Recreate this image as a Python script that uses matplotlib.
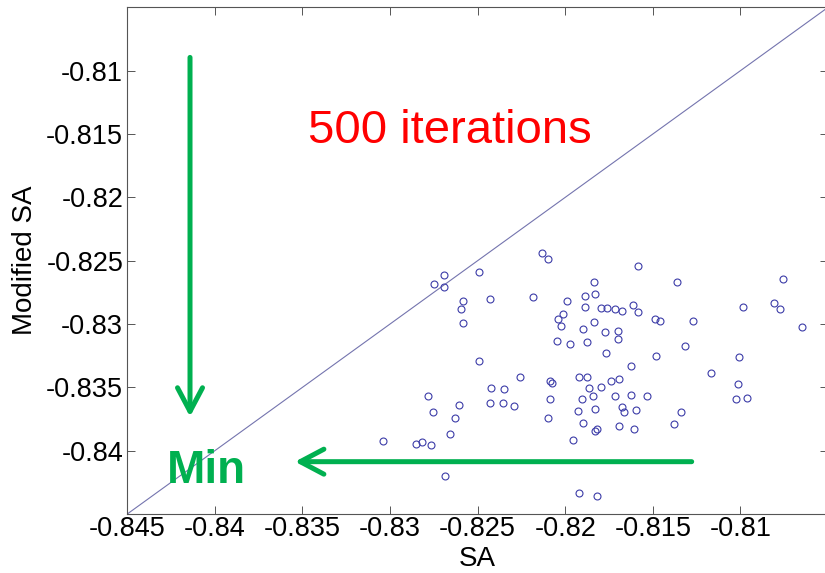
import matplotlib.pyplot as plt
import numpy as np

plt.rcParams['font.family'] = ['Liberation Sans', 'DejaVu Sans']

# SA result vs Modified SA result for each run
sa = np.array([
    -0.82692, -0.82749, -0.82692, -0.82491, -0.82586, -0.82594, -0.82586, -0.82430,
    -0.82491, -0.82258, -0.82784, -0.82753, -0.82608, -0.82629, -0.82658, -0.83042,
    -0.82852, -0.82820, -0.82768, -0.82426, -0.82350, -0.82430, -0.82355, -0.82293,
    -0.82688, -0.82130, -0.82096, -0.81587, -0.81836, -0.82186, -0.81992, -0.81886,
    -0.81829, -0.81886, -0.81794, -0.81764, -0.81715, -0.81678, -0.81615, -0.81587,
    -0.82015, -0.82043, -0.82024, -0.81835, -0.81901, -0.81773, -0.81696, -0.81696,
    -0.82049, -0.81975, -0.81875, -0.81768, -0.81488, -0.81459, -0.81479, -0.81627,
    -0.82085, -0.82077, -0.81922, -0.81875, -0.81737, -0.81695, -0.81866, -0.81798,
    -0.82086, -0.82097, -0.81906, -0.81843, -0.81929, -0.81829, -0.81901, -0.81830,
    -0.81817, -0.81958, -0.81713, -0.81627, -0.81531, -0.81675, -0.81662, -0.81595,
    -0.81693, -0.81608, -0.81920, -0.81819, -0.81362, -0.80759, -0.80984, -0.80809,
    -0.80774, -0.80649, -0.81269, -0.81315, -0.81006, -0.81170, -0.81011, -0.81026,
    -0.80964, -0.81339, -0.81378,
])
modified_sa = np.array([
    -0.82611, -0.82687, -0.82705, -0.82592, -0.82816, -0.82879, -0.82994, -0.82803,
    -0.83292, -0.83418, -0.83571, -0.83695, -0.83643, -0.83744, -0.83872, -0.83921,
    -0.83947, -0.83934, -0.83953, -0.83503, -0.83515, -0.83626, -0.83626, -0.83650,
    -0.84200, -0.82437, -0.82484, -0.82542, -0.82666, -0.82789, -0.82822, -0.82779,
    -0.82761, -0.82866, -0.82870, -0.82876, -0.82878, -0.82901, -0.82852, -0.82905,
    -0.82921, -0.82963, -0.83012, -0.82982, -0.83042, -0.83063, -0.83058, -0.83120,
    -0.83134, -0.83160, -0.83144, -0.83227, -0.82957, -0.82978, -0.83249, -0.83329,
    -0.83448, -0.83464, -0.83418, -0.83418, -0.83450, -0.83432, -0.83508, -0.83500,
    -0.83594, -0.83742, -0.83594, -0.83572, -0.83684, -0.83673, -0.83779, -0.83842,
    -0.83831, -0.83916, -0.83570, -0.83558, -0.83572, -0.83653, -0.83691, -0.83679,
    -0.83803, -0.83831, -0.84334, -0.84360, -0.82671, -0.82647, -0.82863, -0.82832,
    -0.82879, -0.83024, -0.82978, -0.83171, -0.83264, -0.83389, -0.83474, -0.83596,
    -0.83584, -0.83693, -0.83786,
])

lim = [-0.845, -0.805]
xticks = [-0.845, -0.84, -0.835, -0.83, -0.825, -0.82, -0.815, -0.81]
yticks = [-0.84, -0.835, -0.83, -0.825, -0.82, -0.815, -0.81]

green = '#00b050'

fig = plt.figure(figsize=(8.25, 5.73), dpi=100)
ax = fig.add_axes([0.1543, 0.103, 0.8493, 0.8841])

ax.plot(lim, lim, color='#7474ae', lw=0.8)
ax.plot(sa, modified_sa, 'o', mfc='none', mec='#3c3ca8', mew=0.8, ms=5)

ax.set_xlim(lim)
ax.set_ylim(lim)
ax.set_xticks(xticks)
ax.set_yticks(yticks)
ax.set_xticklabels([f'{t:g}' for t in xticks])
ax.set_yticklabels([f'{t:g}' for t in yticks])
ax.tick_params(direction='in', top=True, right=True, length=6, width=0.7,
               color='#555555', labelsize=19.5)
ax.tick_params(axis='x', pad=1.5)
ax.tick_params(axis='y', pad=3)
for s in ax.spines.values():
    s.set_color('#555555')
    s.set_linewidth(0.8)

ax.set_xlabel('SA', fontsize=20, labelpad=3)
ax.set_ylabel('Modified SA', fontsize=20, labelpad=6)

# annotations
ax.text(-0.82658, -0.81571, '500 iterations', color='red', fontsize=34,
        ha='center', va='baseline')
ax.text(-0.84275, -0.84255, 'Min', color=green, fontsize=33,
        fontweight='bold', ha='left', va='baseline')

arrow = dict(arrowstyle='->,head_length=0.85,head_width=0.45', lw=3.6,
             color=green, shrinkA=0, shrinkB=0, mutation_scale=20)
ax.annotate('', xy=(-0.84142, -0.83732), xytext=(-0.84142, -0.80895),
            arrowprops=arrow)
ax.annotate('', xy=(-0.83543, -0.84087), xytext=(-0.81278, -0.84087),
            arrowprops=arrow)

fig.savefig('out.png', dpi=100)
